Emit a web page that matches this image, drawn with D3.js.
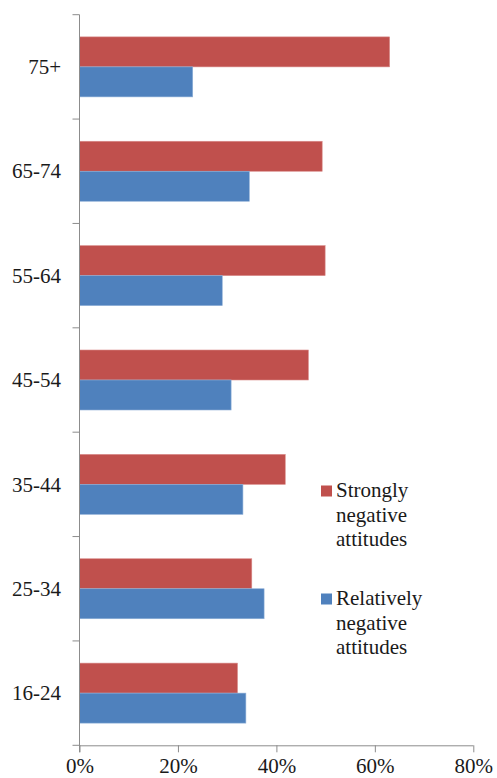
<!DOCTYPE html>
<html>
<head>
<meta charset="utf-8">
<script src="https://cdn.jsdelivr.net/npm/d3@7"></script>
<style>
  html, body { margin: 0; padding: 0; background: #fff; }
  svg { display: block; }
</style>
</head>
<body>
<svg id="chart" width="497" height="778"></svg>
<script>
// Age groups, listed top to bottom
const categories = ["75+", "65-74", "55-64", "45-54", "35-44", "25-34", "16-24"];
// Share of respondents in each group (fraction)
const strongly   = [0.630, 0.493, 0.499, 0.465, 0.418, 0.350, 0.321];
const relatively = [0.230, 0.345, 0.290, 0.308, 0.332, 0.375, 0.338];
const seriesNames = ["Strongly negative attitudes", "Relatively negative attitudes"];
const seriesColors = ["#C0504D", "#4F81BD"];
const xTicks = [0, 0.2, 0.4, 0.6, 0.8];

const FONT = "'Liberation Serif', 'Times New Roman', 'DejaVu Serif', serif";
const TEXT_COLOR = "#1a1a1a";

const svg = d3.select("#chart").attr("font-family", FONT);
const plotLeft = 79.5, plotRight = 473.3, plotTop = 14.7, plotBottom = 745.3;
const axisColor = "#8c8c8c";

const x = d3.scaleLinear().domain([0, 0.8]).range([plotLeft, plotRight]);
const y = d3.scaleBand().domain(categories).range([plotTop, plotBottom]).padding(0);
const barH = 30;

const rows = categories.map((c, i) => ({ cat: c, values: [strongly[i], relatively[i]] }));

// Bars: two per group, strongly negative above relatively negative
const g = svg.append("g");
rows.forEach(r => {
  const cy = y(r.cat) + y.bandwidth() / 2;
  r.values.forEach((v, k) => {
    g.append("rect")
      .attr("x", x(0))
      .attr("y", cy - barH + k * barH)
      .attr("width", x(v) - x(0))
      .attr("height", barH)
      .attr("fill", seriesColors[k])
      .attr("stroke", k === 0 ? "#d98d8b" : "#8fb0d8")
      .attr("stroke-width", 0.6);
  });
});

// Category axis: vertical line, ticks at group boundaries, labels centred
const boundaries = categories.map(c => y(c)).concat([plotBottom]);
svg.append("line")
  .attr("x1", plotLeft).attr("x2", plotLeft)
  .attr("y1", plotTop).attr("y2", plotBottom + 7)
  .attr("stroke", axisColor).attr("stroke-width", 1);
svg.selectAll(".ytick").data(boundaries).enter().append("line")
  .attr("x1", plotLeft - 7).attr("x2", plotLeft)
  .attr("y1", d => d).attr("y2", d => d)
  .attr("stroke", axisColor).attr("stroke-width", 1);
svg.selectAll(".ylab").data(categories).enter().append("text")
  .attr("x", 61)
  .attr("y", d => y(d) + y.bandwidth() / 2)
  .attr("dy", "0.34em")
  .attr("text-anchor", "end")
  .attr("font-family", FONT)
  .attr("font-size", 21)
  .attr("fill", TEXT_COLOR)
  .text(d => d);

// Value axis along the bottom
const xAxis = d3.axisBottom(x).tickValues(xTicks).tickSize(7).tickFormat(d3.format(".0%"));
const xa = svg.append("g").attr("transform", `translate(0,${plotBottom})`).call(xAxis)
  .attr("font-family", FONT).attr("font-size", 21);
xa.select(".domain").attr("stroke", axisColor).attr("d", `M${plotLeft},0.5H${plotRight}`);
xa.selectAll(".tick line").attr("stroke", axisColor);
xa.selectAll(".tick text")
  .attr("y", 0).attr("dy", 0)
  .attr("transform", "translate(0,28)")
  .attr("font-family", FONT)
  .attr("font-size", 21)
  .attr("fill", TEXT_COLOR);

// Legend
const legendItems = [
  { lines: ["Strongly", "negative", "attitudes"], color: seriesColors[0], y: 497 },
  { lines: ["Relatively", "negative", "attitudes"], color: seriesColors[1], y: 605 }
];
legendItems.forEach(item => {
  svg.append("rect")
    .attr("x", 321).attr("y", item.y - 11.5)
    .attr("width", 11).attr("height", 11)
    .attr("fill", item.color);
  const t = svg.append("text").attr("x", 336).attr("y", item.y)
    .attr("font-family", FONT).attr("font-size", 21).attr("fill", TEXT_COLOR);
  item.lines.forEach((l, i) => {
    t.append("tspan").attr("x", 336).attr("dy", i === 0 ? 0 : 24.5).text(l);
  });
});
</script>
</body>
</html>
